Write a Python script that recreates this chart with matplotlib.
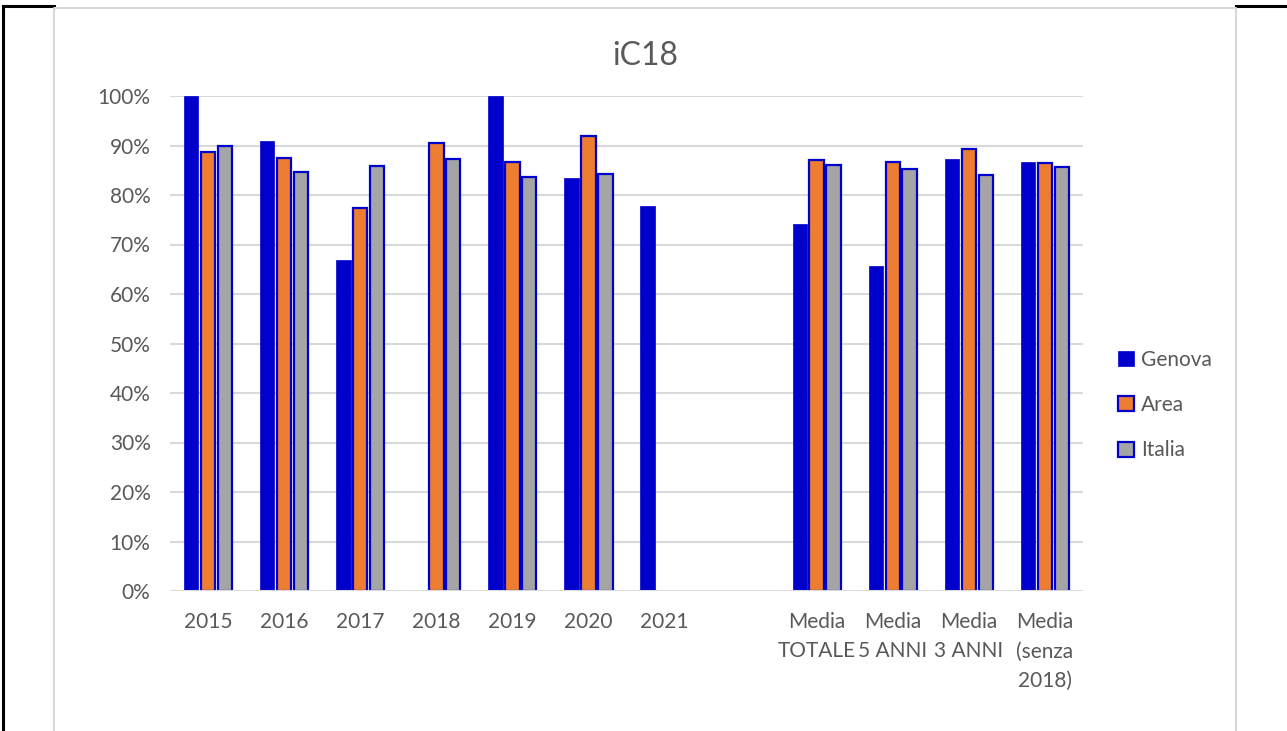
import matplotlib
matplotlib.use("Agg")
import matplotlib.pyplot as plt
from matplotlib.patches import Patch
from matplotlib.lines import Line2D
import numpy as np

plt.rcParams['font.family'] = ['Lato', 'DejaVu Sans']

categories = ["2015", "2016", "2017", "2018", "2019", "2020", "2021", "",
              "Media\nTOTALE", "Media\n5 ANNI", "Media\n3 ANNI", "Media\n(senza\n2018)"]
genova = [100.0, 91.0, 66.8, np.nan, 100.0, 83.4, 77.8, np.nan, 74.2, 65.7, 87.2, 86.6]
area   = [88.7, 87.5, 77.4, 90.6, 86.7, 91.9, np.nan, np.nan, 87.1, 86.7, 89.3, 86.5]
italia = [90.0, 84.6, 85.9, 87.3, 83.6, 84.2, np.nan, np.nan, 86.0, 85.3, 84.0, 85.7]
series_names = ["Genova", "Area", "Italia"]
yticks = [0, 10, 20, 30, 40, 50, 60, 70, 80, 90, 100]

W, H = 1287, 731
fig = plt.figure(figsize=(W / 100, H / 100), dpi=100)
fig.patch.set_facecolor('white')

# outer frame lines
fig.add_artist(Line2D([3 / W, 3 / W], [0, 1 - 6 / H], color='black', lw=2.2, transform=fig.transFigure))
fig.add_artist(Line2D([3 / W, 54 / W], [1 - 6 / H, 1 - 6 / H], color='black', lw=2.2, transform=fig.transFigure))
fig.add_artist(Line2D([1236 / W, 1], [1 - 6 / H, 1 - 6 / H], color='black', lw=2.2, transform=fig.transFigure))
# chart area border
fig.add_artist(Line2D([54 / W, 54 / W, 1236 / W, 1236 / W], [0, 1 - 7.5 / H, 1 - 7.5 / H, 0],
                      color='#D9D9D9', lw=1.5, transform=fig.transFigure))

left, right = 170 / W, 1083 / W
bottom, top = (H - 591) / H, (H - 96) / H
ax = fig.add_axes([left, bottom, right - left, top - bottom])

x = np.arange(len(categories))
bw = 0.19
off = 0.222
c_gen = '#0000CC'
c_area = '#ED7D31'
c_ita = '#A5A5A5'
edge = '#0000CC'

ax.bar(x - off, genova, width=bw, color=c_gen, edgecolor=c_gen, linewidth=0.5, zorder=3)
ax.bar(x, area, width=bw, color=c_area, edgecolor=edge, linewidth=1.6, zorder=3)
ax.bar(x + off, italia, width=bw, color=c_ita, edgecolor=edge, linewidth=1.6, zorder=3)

ax.set_xlim(-0.5, len(categories) - 0.5)
ax.set_ylim(0, 100)
ax.set_yticks(yticks)
ax.set_yticklabels([f"{v}%" for v in yticks])
for v in yticks[1:]:
    ax.axhline(v, color='#D9D9D9', lw=1.5, zorder=1)
ax.axhline(0, color='#D9D9D9', lw=1.5, zorder=4)

ax.set_xticks(x)
ax.set_xticklabels(categories, linespacing=1.6)
for s in ax.spines.values():
    s.set_visible(False)
ax.tick_params(axis='both', length=0, labelsize=15, colors='#595959')
ax.tick_params(axis='y', pad=14)
ax.tick_params(axis='x', pad=15)
ax.set_facecolor('none')

fig.text(645 / W, 1 - 56 / H, "iC18", ha='center', va='center', fontsize=23, color='#595959')

handles = [Patch(facecolor=c_gen, edgecolor=c_gen, linewidth=0.5),
           Patch(facecolor=c_area, edgecolor=edge, linewidth=1.6),
           Patch(facecolor=c_ita, edgecolor=edge, linewidth=1.6)]
leg = fig.legend(handles, series_names, loc='center left',
                 bbox_to_anchor=(1110 / W, 1 - 405 / H), frameon=False,
                 fontsize=15, labelcolor='#595959', handlelength=0.75, handleheight=0.75,
                 handletextpad=0.35, labelspacing=1.22, borderaxespad=0)

fig.savefig("out.png", dpi=100)
